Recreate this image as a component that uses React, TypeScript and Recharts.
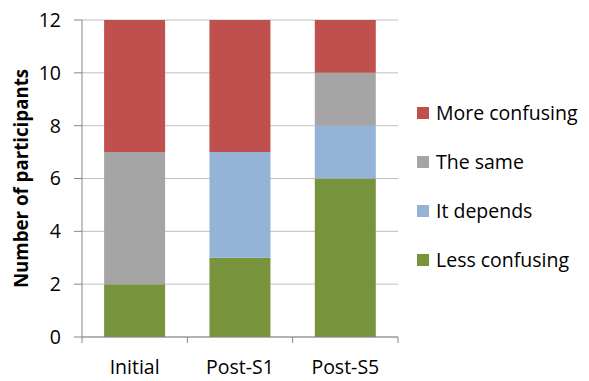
import { BarChart, Bar, XAxis, YAxis, CartesianGrid } from 'recharts';

const groups = ['Initial', 'Post-S1', 'Post-S5'];
const lessConfusing = [2, 3, 6];
const itDepends = [0, 4, 2];
const theSame = [5, 0, 2];
const moreConfusing = [5, 5, 2];
const yTicks = [0, 2, 4, 6, 8, 10, 12];

const series = [
  { key: 'less', name: 'Less confusing', color: '#77933C' },
  { key: 'depends', name: 'It depends', color: '#95B3D7' },
  { key: 'same', name: 'The same', color: '#A5A5A5' },
  { key: 'more', name: 'More confusing', color: '#C0504D' },
];

const data = groups.map((g, i) => ({
  group: g,
  less: lessConfusing[i],
  depends: itDepends[i],
  same: theSame[i],
  more: moreConfusing[i],
}));

const W = 589;
const H = 381;
const M = { top: 20, right: 191, left: 0, bottom: 14 };
const Y_AXIS_W = 82;
const PLOT_W = W - M.left - M.right - Y_AXIS_W;
const BAND = PLOT_W / groups.length;
const FONT = '"Open Sans", sans-serif';
const FS = 19.5;

// category label at the band centre, tick marks on band boundaries
const GroupTick = (props: any) => {
  const { x, y, payload, index } = props;
  const left = x - BAND / 2;
  const right = x + BAND / 2;
  return (
    <g>
      <line x1={left} x2={left} y1={y} y2={y + 6} stroke="#868686" />
      {index === groups.length - 1 && (
        <line x1={right} x2={right} y1={y} y2={y + 6} stroke="#868686" />
      )}
      <text x={x} y={y + 37} textAnchor="middle" fill="#000" fontSize={FS} fontFamily={FONT}>
        {payload.value}
      </text>
    </g>
  );
};

const LegendList = () => (
  <div
    style={{
      position: 'absolute',
      left: 417,
      top: 88,
      fontFamily: FONT,
      fontSize: FS,
      color: '#000',
    }}
  >
    {[...series].reverse().map((s) => (
      <div key={s.key} style={{ display: 'flex', alignItems: 'center', height: 49 }}>
        <span
          style={{ width: 12, height: 12, background: s.color, display: 'inline-block', marginRight: 7 }}
        />
        <span>{s.name}</span>
      </div>
    ))}
  </div>
);

export default function App() {
  return (
    <div style={{ position: 'absolute', left: 0, top: 0, width: W, height: H, background: '#fff' }}>
      <BarChart width={W} height={H} data={data} margin={M} barCategoryGap="21%">
        <CartesianGrid vertical={false} stroke="#BFBFBF" />
        <XAxis
          dataKey="group"
          axisLine={{ stroke: '#868686' }}
          tickLine={false}
          tickSize={0}
          tickMargin={0}
          tick={<GroupTick />}
          interval={0}
          height={30}
        />
        <YAxis
          width={Y_AXIS_W}
          domain={[0, 12]}
          ticks={yTicks}
          interval={0}
          axisLine={{ stroke: '#868686' }}
          tickLine={{ stroke: '#868686' }}
          tickSize={8}
          tickMargin={13}
          tick={{ fill: '#000', fontSize: FS, fontFamily: FONT }}
          label={{
            value: 'Number of participants',
            angle: -90,
            position: 'insideLeft',
            offset: 0,
            dx: 21,
            style: { textAnchor: 'middle', fontWeight: 'bold', fontSize: 18.7, fontFamily: FONT, fill: '#000' },
          }}
        />
        {series.map((s) => (
          <Bar key={s.key} dataKey={s.key} name={s.name} stackId="a" fill={s.color} isAnimationActive={false} />
        ))}
      </BarChart>
      <LegendList />
    </div>
  );
}
